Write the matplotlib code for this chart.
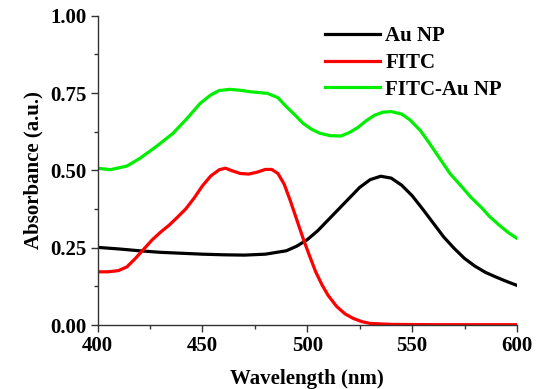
import numpy as np
import matplotlib.pyplot as plt
from matplotlib.ticker import MultipleLocator

# Au NP
au_x = [400, 410, 420, 430, 440, 450, 460, 470, 480, 490, 495, 500, 505, 510, 515,
        520, 525, 530, 535, 540, 545, 550, 555, 560, 565, 570, 575, 580, 585, 590, 595, 600]
au_y = [0.251, 0.246, 0.240, 0.235, 0.232, 0.229, 0.227, 0.226, 0.229, 0.240, 0.255, 0.276,
        0.305, 0.340, 0.375, 0.410, 0.445, 0.470, 0.481, 0.475, 0.452, 0.418, 0.375, 0.330,
        0.285, 0.248, 0.215, 0.190, 0.170, 0.155, 0.141, 0.128]

# FITC
fitc_x = [400, 405, 410, 414, 418, 422, 426, 430, 434, 438, 442, 446, 450, 454, 458,
          461, 464, 468, 472, 476, 480, 483, 486, 489, 492, 495, 498, 501, 504, 507,
          510, 514, 518, 522, 526, 530, 540, 560, 580, 600]
fitc_y = [0.172, 0.172, 0.176, 0.188, 0.215, 0.245, 0.275, 0.300, 0.322, 0.348, 0.375,
          0.410, 0.450, 0.482, 0.502, 0.507, 0.499, 0.490, 0.488, 0.494, 0.503, 0.503,
          0.490, 0.455, 0.400, 0.340, 0.280, 0.225, 0.172, 0.130, 0.095, 0.060, 0.036,
          0.021, 0.011, 0.005, 0.002, 0.001, 0.001, 0.001]

# FITC-Au NP
mix_x = [400, 406, 414, 420, 428, 436, 442, 449, 454, 458, 463, 468, 473, 481, 486,
         490, 494, 498, 502, 506, 511, 516, 520, 524, 528, 532, 536, 540, 545, 549,
         554, 558, 563, 568, 573, 578, 583, 587, 592, 596, 600]
mix_y = [0.507, 0.502, 0.514, 0.538, 0.577, 0.620, 0.663, 0.717, 0.744, 0.758, 0.762,
         0.759, 0.754, 0.749, 0.735, 0.706, 0.680, 0.652, 0.633, 0.620, 0.612, 0.611,
         0.622, 0.638, 0.660, 0.678, 0.688, 0.690, 0.682, 0.663, 0.628, 0.590, 0.540,
         0.490, 0.452, 0.413, 0.380, 0.350, 0.320, 0.298, 0.280]

plt.rcParams['font.family'] = ['Liberation Serif', 'DejaVu Serif']
plt.rcParams['font.weight'] = 'bold'

fig = plt.figure(figsize=(5.36, 3.89), dpi=100)
ax = fig.add_axes([0.182, 0.1645, 0.7826, 0.7951])

ax.plot(au_x, au_y, color='black', linewidth=2.3, label='Au NP')
ax.plot(fitc_x, fitc_y, color='#ff0000', linewidth=2.3, label='FITC')
ax.plot(mix_x, mix_y, color='#00ee00', linewidth=2.3, label='FITC-Au NP')

ax.set_xlim(400, 600)
ax.set_ylim(0, 1.0)
ax.xaxis.set_major_locator(MultipleLocator(50))
ax.xaxis.set_minor_locator(MultipleLocator(25))
ax.yaxis.set_major_locator(MultipleLocator(0.25))
ax.yaxis.set_minor_locator(MultipleLocator(0.125))
ax.yaxis.set_major_formatter(plt.FormatStrFormatter('%.2f'))

ax.spines['top'].set_visible(False)
ax.spines['right'].set_visible(False)
for s in ['left', 'bottom']:
    ax.spines[s].set_linewidth(1.0)
    ax.spines[s].set_color('#333333')

ax.tick_params(which='major', direction='out', length=5, width=1, labelsize=15,
               pad=3, color='#333333')
ax.tick_params(which='minor', direction='out', length=3, width=1, color='#333333')
for lbl in ax.get_xticklabels() + ax.get_yticklabels():
    lbl.set_fontweight('bold')

ax.set_xlabel('Wavelength (nm)', fontsize=15, fontweight='bold', labelpad=9)
ax.set_ylabel('Absorbance (a.u.)', fontsize=15, fontweight='bold', labelpad=5)

ax.legend(loc='upper left', bbox_to_anchor=(0.542, 0.966), frameon=False,
          handlelength=2.65, handletextpad=0.25, labelspacing=0.32,
          borderpad=0, borderaxespad=0,
          prop={'weight': 'bold', 'size': 15})

fig.savefig('out.png', dpi=100)
